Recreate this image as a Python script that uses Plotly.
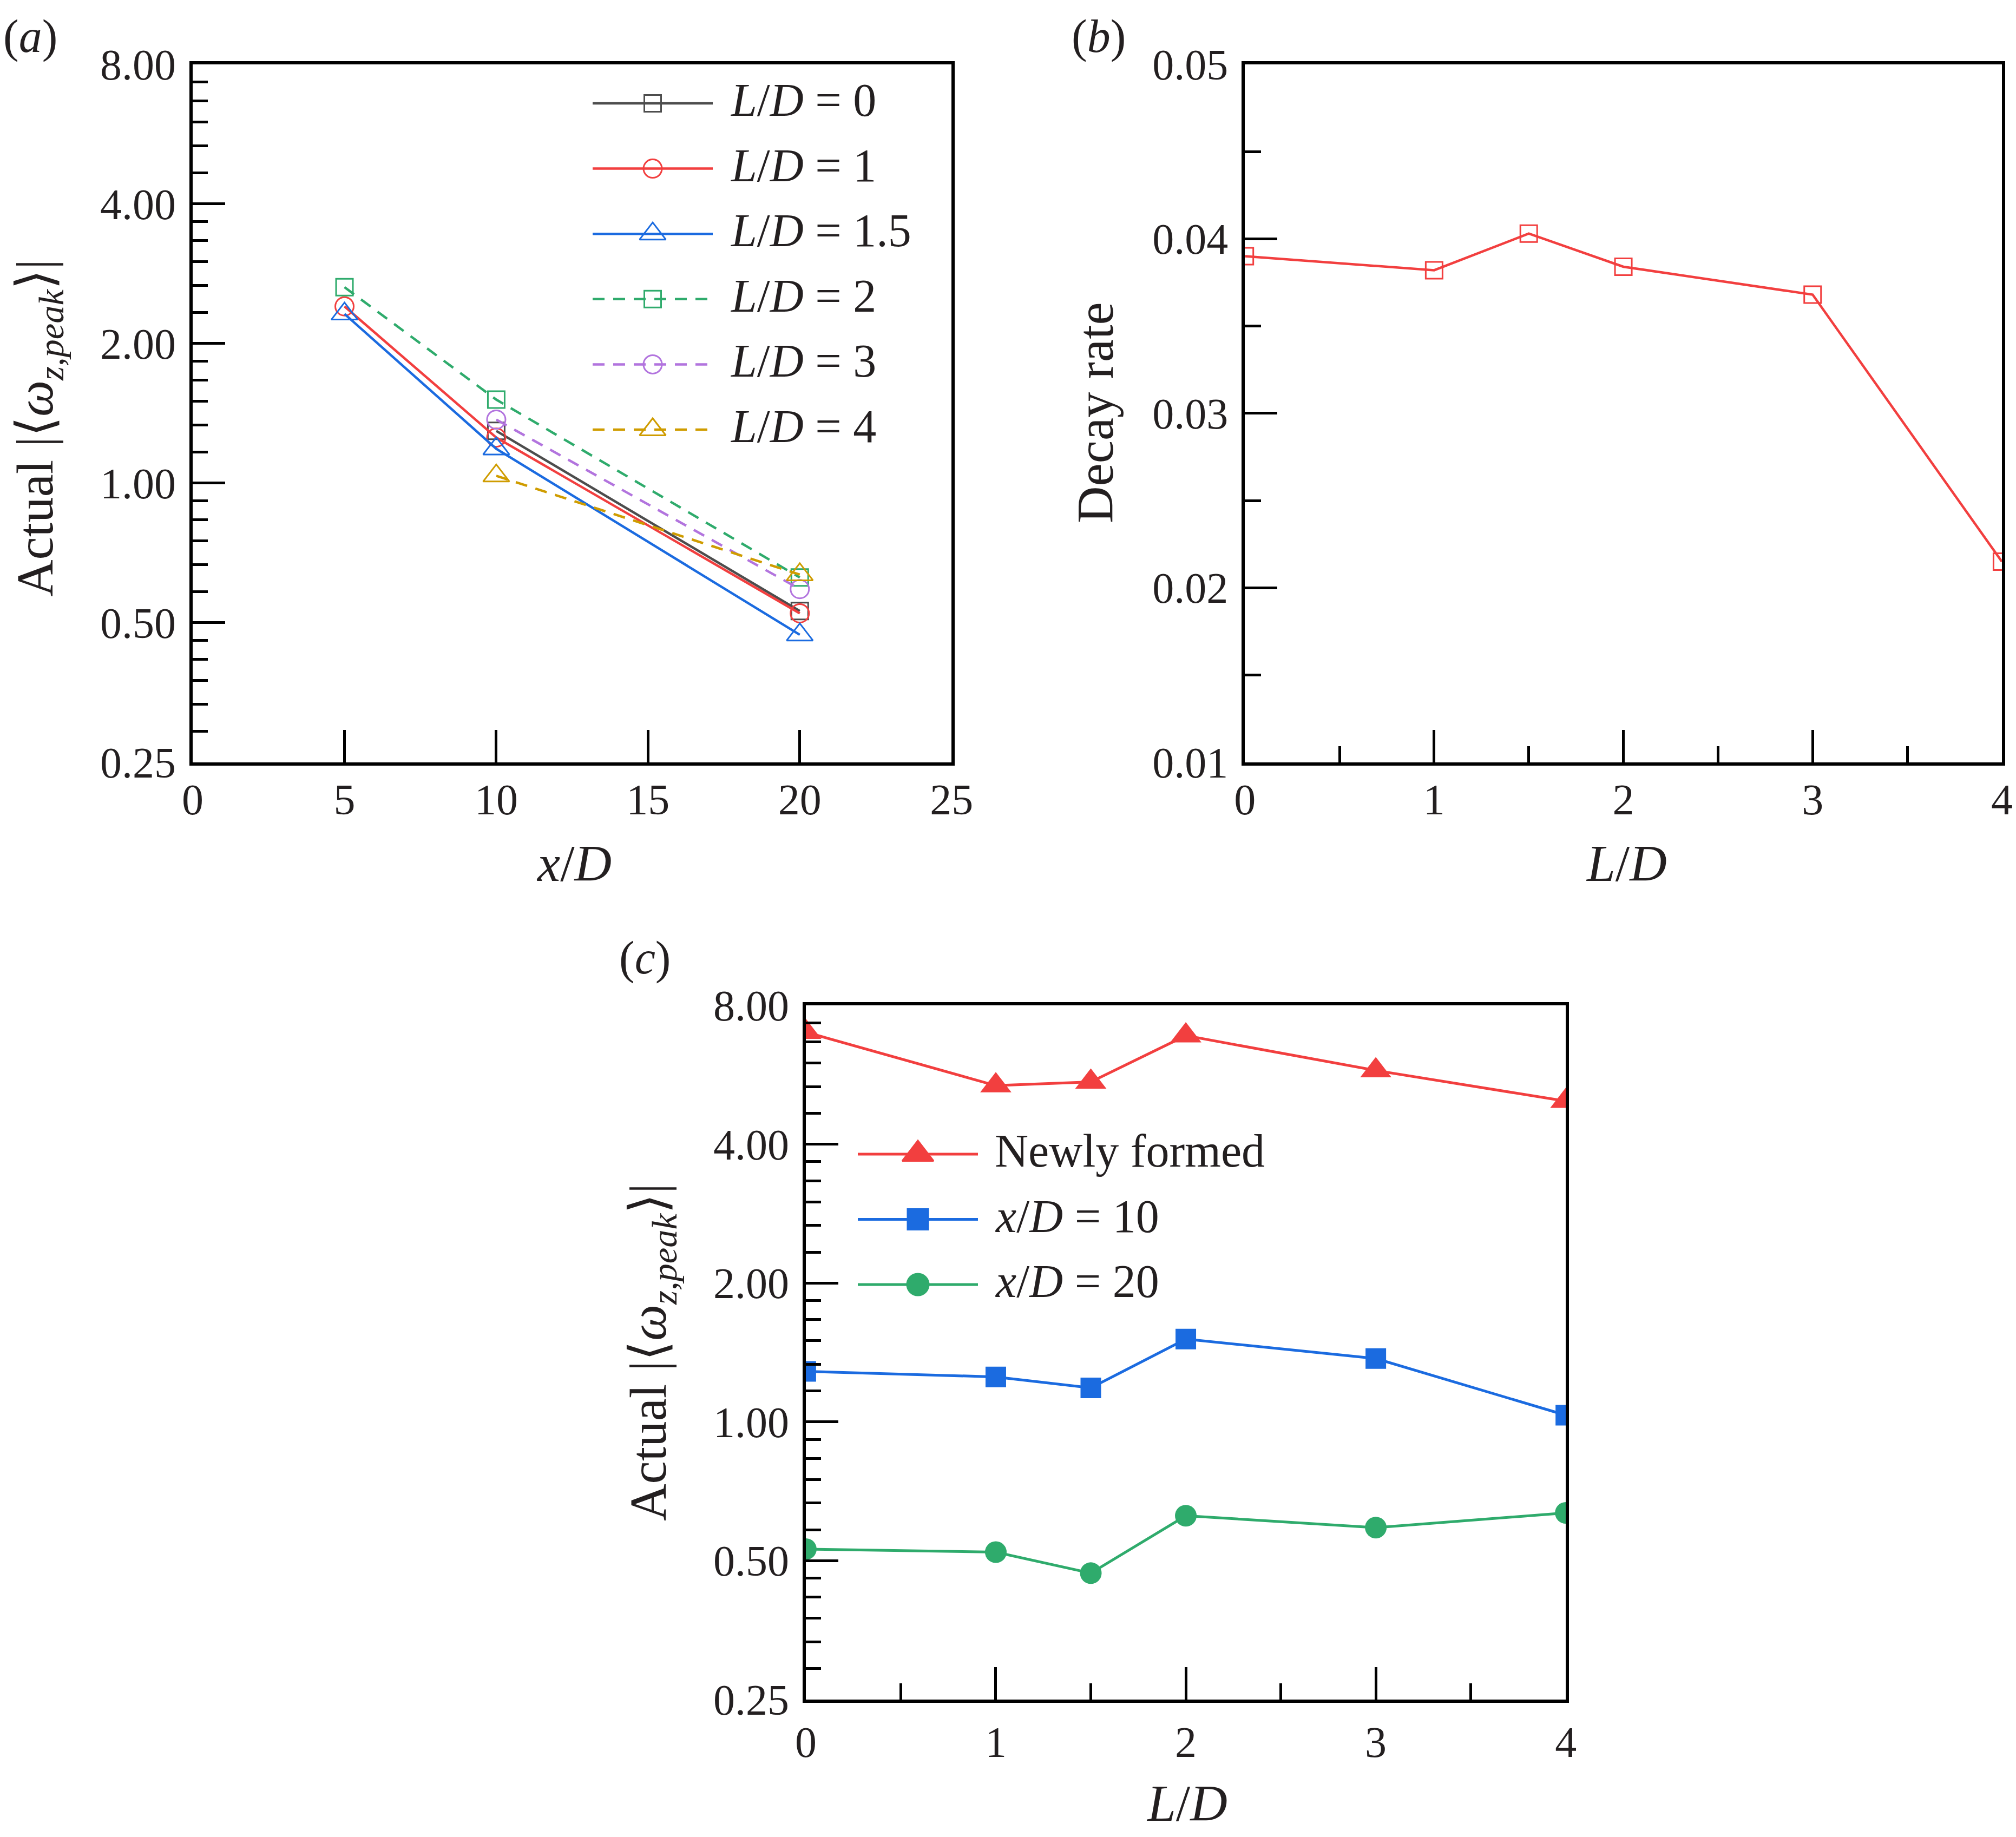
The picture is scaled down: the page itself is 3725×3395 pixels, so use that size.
import math
import plotly.graph_objects as go

W, H = 3725, 3395

# (a) |<w_z,peak>| against x/D, one series per L/D
x_ld0 = [10, 20]
y_ld0 = [1.296, 0.530]
x_ld1 = [5, 10, 20]
y_ld1 = [2.405, 1.254, 0.524]
x_ld15 = [5, 10, 20]
y_ld15 = [2.317, 1.186, 0.471]
x_ld2 = [5, 10, 20]
y_ld2 = [2.645, 1.514, 0.626]
x_ld3 = [10, 20]
y_ld3 = [1.371, 0.591]
x_ld4 = [10, 20]
y_ld4 = [1.037, 0.635]

# (b) decay rate against L/D
ld = [0, 1, 1.5, 2, 3, 4]
decay = [0.0390, 0.0382, 0.0403, 0.0384, 0.0368, 0.0215]

# (c) |<w_z,peak>| against L/D
newly = [7.00, 5.36, 5.46, 6.88, 5.78, 4.96]
xd10 = [1.287, 1.252, 1.185, 1.512, 1.372, 1.034]
xd20 = [0.530, 0.522, 0.470, 0.626, 0.590, 0.635]

log_ticks = [0.25, 0.5, 1, 2, 4, 8]
log_labels = ["0.25", "0.50", "1.00", "2.00", "4.00", "8.00"]

FONT = "Liberation Serif"
INK = "#231f20"
GRAY = "#4d4d4d"
RED = "#f23f3f"
BLUE = "#1b6be0"
GREEN = "#2fab6c"
PURPLE = "#b274de"
GOLD = "#cf9c00"
LW = 4.5

# minor ticks: each octave split linearly into 6
log_minor = [v + k * v / 6 for v in log_ticks[:-1] for k in range(1, 6)]


def pa(px, py):
    return px / W, 1 - py / H


series_a = [
    ("<i>L</i>/<i>D</i> = 0", x_ld0, y_ld0, GRAY, "square-open", 31, "solid"),
    ("<i>L</i>/<i>D</i> = 1", x_ld1, y_ld1, RED, "circle-open", 34, "solid"),
    ("<i>L</i>/<i>D</i> = 1.5", x_ld15, y_ld15, BLUE, "triangle-up-open", 42, "solid"),
    ("<i>L</i>/<i>D</i> = 2", x_ld2, y_ld2, GREEN, "square-open", 31, "22px,16px"),
    ("<i>L</i>/<i>D</i> = 3", x_ld3, y_ld3, PURPLE, "circle-open", 34, "22px,16px"),
    ("<i>L</i>/<i>D</i> = 4", x_ld4, y_ld4, GOLD, "triangle-up-open", 42, "22px,16px"),
]

series_c = [
    ("Newly formed", newly, RED, "triangle-up", 50),
    ("<i>x</i>/<i>D</i> = 10", xd10, BLUE, "square", 38),
    ("<i>x</i>/<i>D</i> = 20", xd20, GREEN, "circle", 40),
]

fig = go.Figure()

for name, xs, ys, col, sym, size, dash in series_a:
    fig.add_trace(go.Scatter(
        x=xs, y=ys, mode="lines+markers", name=name,
        line=dict(color=col, width=LW, dash=dash),
        marker=dict(symbol=sym, size=size, color=col, line=dict(color=col, width=3)),
        xaxis="x", yaxis="y"))

fig.add_trace(go.Scatter(
    x=ld, y=decay, mode="lines+markers",
    line=dict(color=RED, width=LW),
    marker=dict(symbol="square-open", size=31, color=RED, line=dict(color=RED, width=3)),
    xaxis="x2", yaxis="y2"))

for name, ys, col, sym, size in series_c:
    fig.add_trace(go.Scatter(
        x=ld, y=ys, mode="lines+markers", name=name,
        line=dict(color=col, width=5),
        marker=dict(symbol=sym, size=size, color=col),
        xaxis="x3", yaxis="y3"))

# hand-drawn legends (plotly caps legend marker size)
annotations = []
legends = [
    ([(s[0], s[3], s[4], s[5], s[6], LW) for s in series_a], 1095, 1317, 1347, 191, 120.6),
    ([(s[0], s[2], s[3], s[4], "solid", 5) for s in series_c], 1585, 1807, 1836, 2133, 120.5),
]
for entries, x0, x1, xt, ytop, step in legends:
    for i, (name, col, sym, size, dash, lw) in enumerate(entries):
        yy = ytop + i * step
        fig.add_trace(go.Scatter(
            x=[x0, x1], y=[yy, yy], mode="lines",
            line=dict(color=col, width=lw, dash=dash),
            xaxis="x4", yaxis="y4", hoverinfo="skip"))
        fig.add_trace(go.Scatter(
            x=[(x0 + x1) / 2], y=[yy], mode="markers",
            marker=dict(symbol=sym, size=size, color=col, line=dict(color=col, width=3)),
            xaxis="x4", yaxis="y4", hoverinfo="skip"))
        ax, ay = pa(xt, yy - 6)
        annotations.append(dict(x=ax, y=ay, xref="paper", yref="paper", text=name,
                                showarrow=False, xanchor="left", yanchor="middle",
                                font=dict(family=FONT, size=86, color=INK)))

# panel labels and axis titles
ytitle = "Actual |⟨<i>ω</i><sub><i>z,peak</i></sub>⟩|"
texts = [
    ("(<i>a</i>)", 56, 67, 0, 86),
    ("(<i>b</i>)", 2030, 67, 0, 86),
    ("(<i>c</i>)", 1191, 1770, 0, 86),
    ("<i>x</i>/<i>D</i>", 1060, 1596, 0, 95),
    ("<i>L</i>/<i>D</i>", 3005, 1596, 0, 95),
    ("<i>L</i>/<i>D</i>", 2193, 3333, 0, 95),
    (ytitle, 71, 791, -90, 95),
    ("Decay rate", 2024, 763, -90, 95),
    (ytitle, 1204, 2499, -90, 95),
]
for t, px, py, ang, fs in texts:
    ax, ay = pa(px, py)
    annotations.append(dict(x=ax, y=ay, xref="paper", yref="paper", text=t,
                            showarrow=False, xanchor="center", yanchor="middle",
                            textangle=ang, font=dict(family=FONT, size=fs, color=INK)))

frame = dict(showline=True, linewidth=6, linecolor="black", mirror=True,
             showgrid=False, zeroline=False, ticks="inside", ticklen=60,
             tickwidth=4.5, tickcolor="black", automargin=False,
             ticklabeloverflow="allow",
             tickfont=dict(family=FONT, size=80, color=INK))


def log_y(domain, anchor):
    return dict(frame, type="log", domain=domain, anchor=anchor,
                range=[math.log10(0.25), math.log10(8)],
                tickvals=log_ticks, ticktext=log_labels, ticklabelstandoff=9,
                minor=dict(tickvals=log_minor, ticks="inside", ticklen=28,
                           tickwidth=4.5, tickcolor="black"))


def ld_x(domain, anchor, standoff):
    return dict(frame, domain=domain, anchor=anchor, range=[0, 4], dtick=1,
                ticklabelstandoff=standoff,
                minor=dict(dtick=0.5, ticks="inside", ticklen=30,
                           tickwidth=4.5, tickcolor="black"))


fig.update_layout(
    width=W, height=H, margin=dict(l=0, r=0, t=0, b=0, pad=0, autoexpand=False),
    font=dict(family=FONT, color=INK),
    paper_bgcolor="white", plot_bgcolor="rgba(0,0,0,0)", showlegend=False,
    xaxis=dict(frame, domain=[0.0956, 0.472], anchor="y", range=[0, 25],
               tickvals=[0, 5, 10, 15, 20, 25], ticklabelstandoff=-6),
    yaxis=log_y([0.585, 0.965], "x"),
    xaxis2=ld_x([0.6175, 0.993], "y2", -6),
    yaxis2=dict(frame, domain=[0.585, 0.965], anchor="x2", range=[0.01, 0.05],
                dtick=0.01, tickformat=".2f", ticklabelstandoff=9,
                minor=dict(dtick=0.005, ticks="inside", ticklen=30,
                           tickwidth=4.5, tickcolor="black")),
    xaxis3=ld_x([0.3997, 0.7767], "y3", 4),
    yaxis3=log_y([0.0748, 0.4527], "x3"),
    xaxis4=dict(domain=[0, 1], range=[0, W], visible=False, anchor="y4",
                fixedrange=True),
    yaxis4=dict(domain=[0, 1], range=[H, 0], visible=False, anchor="x4",
                fixedrange=True),
    annotations=annotations,
)

fig.write_html("out.html", config={"displayModeBar": False},
               post_script="document.body.style.margin='0px';")
